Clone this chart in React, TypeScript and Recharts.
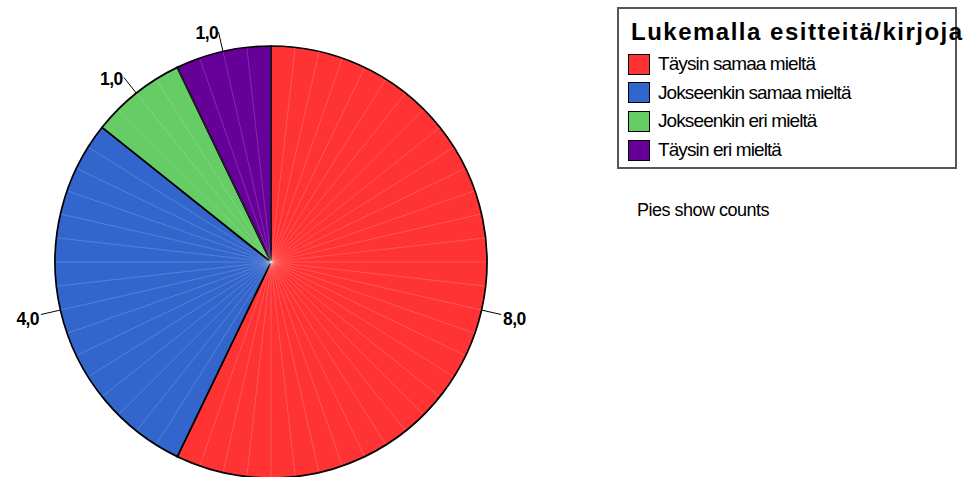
import { PieChart, Pie, Cell, Legend } from 'recharts';

const categories = ['Täysin samaa mieltä', 'Jokseenkin samaa mieltä', 'Jokseenkin eri mieltä', 'Täysin eri mieltä'];
const counts = [8, 4, 1, 1];
const colors = ['#FF3333', '#3366CC', '#66CC66', '#660099'];
const legendTitle = 'Lukemalla esitteitä/kirjoja';
const note = 'Pies show counts';

const data = categories.map((name, i) => ({ name, value: counts[i] }));

const RAD = Math.PI / 180;
const FONT = '"Liberation Sans", Arial, sans-serif';

// faint radial hatching + outside value label
function renderLabel(props: any) {
  const { cx, cy, midAngle, outerRadius, startAngle, endAngle, value } = props;
  const cos = Math.cos(-midAngle * RAD);
  const sin = Math.sin(-midAngle * RAD);
  const lines = [];
  const step = 360 / 56;
  const lo = Math.min(startAngle, endAngle);
  const hi = Math.max(startAngle, endAngle);
  for (let a = Math.ceil(lo / step) * step; a < hi - 0.5; a += step) {
    const c = Math.cos(-a * RAD);
    const s = Math.sin(-a * RAD);
    lines.push(
      <line key={a} x1={cx} y1={cy} x2={cx + (outerRadius - 1) * c} y2={cy + (outerRadius - 1) * s}
        stroke="#fff" strokeOpacity={0.22} strokeWidth={0.8} />
    );
  }
  const x1 = cx + outerRadius * cos;
  const y1 = cy + outerRadius * sin;
  const x2 = cx + (outerRadius + 20) * cos;
  const y2 = cy + (outerRadius + 20) * sin;
  const tx = cx + (outerRadius + 22) * cos;
  const ty = cy + (outerRadius + 23) * sin + 4;
  return (
    <g>
      {lines}
      <line x1={x1} y1={y1} x2={x2} y2={y2} stroke="#000" strokeWidth={1} />
      <text x={tx} y={ty} textAnchor={cos >= 0 ? 'start' : 'end'} dominantBaseline="central"
        fontFamily={FONT} fontWeight="bold" fontSize={17.5} fill="#000" letterSpacing={-0.6}>
        {value.toFixed(1).replace('.', ',')}
      </text>
    </g>
  );
}

function LegendBox() {
  return (
    <div style={{ position: 'absolute', left: 617, top: 7, width: 340, height: 162, border: '2px solid #555', background: '#fff', fontFamily: FONT, boxSizing: 'border-box' }}>
      <div style={{ position: 'absolute', left: 12, top: 9, fontSize: 24, fontWeight: 'bold', whiteSpace: 'nowrap', color: '#000', lineHeight: '28px', letterSpacing: 1.5 }}>
        {legendTitle}
      </div>
      {categories.map((c, i) => (
        <div key={c} style={{ position: 'absolute', left: 9, top: 44 + i * 28.7, height: 22, display: 'flex', alignItems: 'center', whiteSpace: 'nowrap' }}>
          <span style={{ width: 20, height: 19, background: colors[i], border: '1px solid #000', display: 'inline-block' }} />
          <span style={{ marginLeft: 8, fontSize: 19, color: '#000', letterSpacing: -0.9 }}>{c}</span>
        </div>
      ))}
    </div>
  );
}

export default function App() {
  return (
    <div style={{ position: 'absolute', left: 0, top: 0, width: 970, height: 477, background: '#fff', overflow: 'hidden' }}>
      <PieChart width={970} height={477} margin={{ top: 0, right: 0, bottom: 0, left: 0 }}>
        <Pie
          data={data}
          dataKey="value"
          nameKey="name"
          cx={271}
          cy={262}
          outerRadius={216}
          startAngle={90}
          endAngle={-270}
          stroke="#000"
          strokeWidth={1.7}
          label={renderLabel}
          labelLine={false}
          isAnimationActive={false}
        >
          {data.map((d, i) => (
            <Cell key={d.name} fill={colors[i]} />
          ))}
        </Pie>
        <Legend content={() => null} />
      </PieChart>
      <LegendBox />
      <div style={{ position: 'absolute', left: 637, top: 200, fontFamily: FONT, fontSize: 18, letterSpacing: -0.5, color: '#000', whiteSpace: 'nowrap' }}>
        {note}
      </div>
    </div>
  );
}
